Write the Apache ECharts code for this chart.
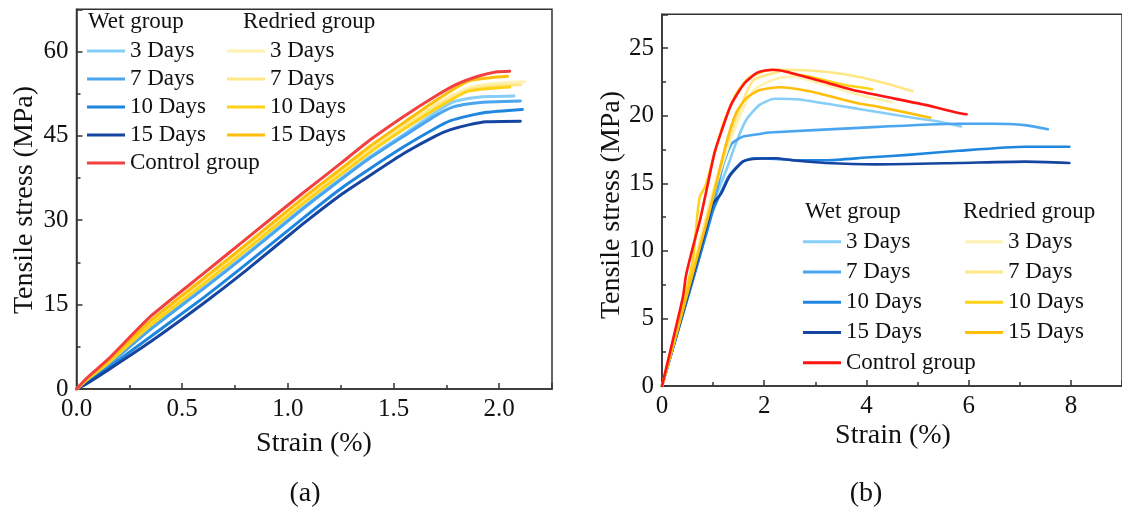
<!DOCTYPE html>
<html>
<head>
<meta charset="utf-8">
<script src="https://cdn.jsdelivr.net/npm/echarts@6/dist/echarts.min.js"></script>
<style>
html,body{margin:0;padding:0;background:#fff;}
#chart{width:1122px;height:510px;}
</style>
</head>
<body>
<div id="chart"></div>
<script>
// ---------- Panel (a) data: [strain %, stress MPa] ----------
const aWet3  = [[0,0],[0.05,1.5],[0.15,4.4],[0.35,10.7],[0.6,18.0],[0.8,23.9],[1.07,32.2],[1.25,37.4],[1.39,41.3],[1.55,45.3],[1.7,49.2],[1.78,51.0],[1.86,51.7],[1.95,52.0],[2.07,52.1]];
const aWet7  = [[0,0],[0.05,1.5],[0.15,4.3],[0.35,10.6],[0.6,17.8],[0.8,23.7],[1.07,32.0],[1.25,37.2],[1.39,41.1],[1.55,45.0],[1.7,48.6],[1.78,50.1],[1.86,50.7],[1.95,51.0],[2.10,51.2]];
const aWet10 = [[0,0],[0.05,1.2],[0.15,3.8],[0.35,9.3],[0.6,16.2],[0.8,22.1],[1.07,30.3],[1.25,35.6],[1.39,39.2],[1.55,43.1],[1.7,46.4],[1.77,47.7],[1.86,48.6],[1.94,49.2],[2.11,49.7]];
const aWet15 = [[0,0],[0.05,1.0],[0.15,3.4],[0.35,8.4],[0.6,15.2],[0.8,21.0],[1.07,29.3],[1.25,34.5],[1.39,38.0],[1.55,41.9],[1.7,45.0],[1.77,46.1],[1.86,47.0],[1.94,47.5],[2.10,47.6]];
const aRed3  = [[0,0],[0.05,1.8],[0.15,4.9],[0.35,11.9],[0.6,19.3],[0.8,25.4],[1.07,33.6],[1.25,38.9],[1.39,42.9],[1.55,47.0],[1.7,50.7],[1.85,53.5],[1.95,54.2],[2.05,54.5],[2.12,54.6]];
const aRed7  = [[0,0],[0.05,1.7],[0.15,4.8],[0.35,11.7],[0.6,19.1],[0.8,25.1],[1.07,33.3],[1.25,38.6],[1.39,42.6],[1.55,46.6],[1.7,50.3],[1.85,53.1],[1.95,53.8],[2.05,54.0],[2.10,54.1]];
const aRed10 = [[0,0],[0.05,1.65],[0.15,4.6],[0.35,11.3],[0.6,18.6],[0.8,24.6],[1.07,32.9],[1.25,38.1],[1.39,42.1],[1.55,46.2],[1.7,49.8],[1.85,52.9],[1.95,53.4],[2.05,53.7]];
const aRed15 = [[0,0],[0.05,1.8],[0.15,5.0],[0.35,12.1],[0.6,19.6],[0.8,25.6],[1.07,33.9],[1.25,39.1],[1.39,43.2],[1.55,47.4],[1.7,51.3],[1.85,54.7],[1.95,55.3],[2.04,55.6]];
const aControl = [[0,0],[0.05,2.0],[0.15,5.3],[0.35,12.9],[0.6,20.5],[0.8,26.6],[1.07,34.8],[1.25,40.1],[1.39,44.3],[1.55,48.5],[1.7,52.1],[1.8,54.2],[1.9,55.6],[1.99,56.4],[2.05,56.5]];

// ---------- Panel (b) data ----------
const bWet3  = [[0,0],[0.3,4.0],[0.6,8.0],[0.9,12.1],[1.0,13.5],[1.26,16.0],[1.45,18.0],[1.65,19.7],[1.91,20.8],[2.2,21.25],[2.68,21.2],[3.85,20.5],[4.82,19.9],[5.5,19.5],[5.85,19.2]];
const bWet7  = [[0,0],[0.3,3.9],[0.6,7.8],[0.9,11.8],[1.0,13.3],[1.1,14.9],[1.2,16.4],[1.36,17.9],[1.58,18.45],[1.91,18.65],[2.1,18.75],[3.85,19.1],[5.8,19.4],[6.45,19.4],[7.1,19.3],[7.55,19.0]];
const bWet10 = [[0,0],[0.3,3.9],[0.6,7.8],[0.9,11.7],[1.0,13.0],[1.15,14.3],[1.32,15.6],[1.58,16.6],[1.8,16.85],[2.23,16.8],[2.7,16.7],[3.2,16.7],[4.0,16.9],[4.82,17.1],[5.8,17.4],[7.1,17.7],[7.97,17.7]];
const bWet15 = [[0,0],[0.3,4.0],[0.6,8.0],[0.9,12.2],[1.0,13.5],[1.16,14.25],[1.32,15.5],[1.58,16.6],[1.78,16.8],[2.23,16.85],[2.55,16.7],[3.2,16.5],[4.18,16.4],[5.8,16.5],[7.1,16.6],[7.97,16.5]];
const bRed3  = [[0,0],[0.3,4.2],[0.6,8.5],[0.9,12.8],[1.2,16.6],[1.5,19.8],[1.8,21.9],[2.2,22.7],[2.55,22.9],[3.0,22.5],[3.53,21.9],[4.0,21.4],[4.5,21.0]];
const bRed7  = [[0,0],[0.3,4.2],[0.6,8.6],[0.9,13.0],[1.2,17.0],[1.5,20.3],[1.78,22.6],[2.23,23.2],[2.43,23.4],[3.2,23.25],[3.8,22.9],[4.37,22.4],[4.9,21.8]];
const bRed10 = [[0,0],[0.3,4.4],[0.6,9.2],[0.69,12.6],[0.74,14.0],[0.85,14.8],[1.0,16.8],[1.2,19.4],[1.45,21.6],[1.7,22.8],[2.0,23.3],[2.3,23.4],[2.55,23.1],[2.88,22.9],[3.2,22.6],[3.53,22.3],[4.11,21.95]];
const bRed15 = [[0,0],[0.3,4.1],[0.6,8.3],[0.9,12.5],[1.0,14.0],[1.26,18.0],[1.45,20.2],[1.65,21.3],[1.91,21.9],[2.3,22.1],[2.88,21.8],[3.85,20.9],[4.18,20.7],[5.25,19.85]];
const bControl = [[0,0],[0.2,3.2],[0.41,6.6],[0.47,8.2],[0.64,10.8],[0.74,12.2],[0.9,15.0],[1.03,17.3],[1.16,18.8],[1.35,20.8],[1.615,22.4],[1.874,23.2],[2.165,23.4],[2.43,23.25],[3.07,22.6],[3.85,21.8],[5.15,20.8],[5.8,20.2],[5.96,20.1]];

// ---------- Labels ----------
const wetLabels = ['3 Days','7 Days','10 Days','15 Days'];
const redLabels = ['3 Days','7 Days','10 Days','15 Days'];
const controlLabel = 'Control group';
const wetHeader = 'Wet group';
const redHeader = 'Redried group';
const xTitle = 'Strain (%)';
const yTitle = 'Tensile stress (MPa)';
const panelLabels = ['(a)','(b)'];

const wetColors = ['#86cef8','#4ba6ef','#1f86e0','#1545a0'];
const redColors = ['#fff1b0','#ffe784','#ffd21a','#ffbe0a'];
const controlColorA = '#f24040';
const controlColorB = '#ff1414';

const FONT = 'Liberation Serif';
const chart = echarts.init(document.getElementById('chart'), null, {renderer:'canvas'});

function mkSeries(panel, idx, name, data, color, width, smooth){
  return {
    type:'line', name: panel+':'+name, xAxisIndex: idx, yAxisIndex: idx,
    data: data, showSymbol:false, symbol:'none', smooth:smooth,
    lineStyle:{color:color, width:width, join:'round', cap:'round'}, itemStyle:{color:color},
    emphasis:{disabled:true}, z: 3
  };
}
const series = [];
const aWet=[aWet3,aWet7,aWet10,aWet15], aRed=[aRed3,aRed7,aRed10,aRed15];
const bWet=[bWet3,bWet7,bWet10,bWet15], bRed=[bRed3,bRed7,bRed10,bRed15];
wetLabels.forEach((l,i)=>series.push(mkSeries('a',0,'W '+l,aWet[i],wetColors[i],3,0.15)));
redLabels.forEach((l,i)=>series.push(mkSeries('a',0,'R '+l,aRed[i],redColors[i],3,0.15)));
series.push(mkSeries('a',0,controlLabel,aControl,controlColorA,3,0.15));
wetLabels.forEach((l,i)=>series.push(mkSeries('b',1,'W '+l,bWet[i],wetColors[i],2.6,0.2)));
redLabels.forEach((l,i)=>series.push(mkSeries('b',1,'R '+l,bRed[i],redColors[i],2.6,0.2)));
series.push(mkSeries('b',1,controlLabel,bControl,controlColorB,2.6,0.2));

const fmtName = n => { const s = n.split(':')[1]; return s.replace(/^[WR] /,''); };
function mkLegend(left, top, names, gap){
  return {
    left:left, top:top, orient:'vertical', data:names, icon:'rect', itemWidth:38, itemHeight:3, itemGap:gap,
    formatter: fmtName, selectedMode:false, padding:0,
    textStyle:{fontFamily:FONT, fontSize:23, color:'#111', lineHeight:24, padding:[0,0,0,0]}
  };
}
const axisLine = {show:true, lineStyle:{color:'#333', width:1.5}};
const tickStyle = {show:true, inside:true, length:6, lineStyle:{color:'#333', width:1.5}};
const minorStyle = {show:true, splitNumber:2, length:4, lineStyle:{color:'#333', width:1.5}};
const labelStyle = {fontFamily:FONT, fontSize:25, color:'#111', margin:8, showMaxLabel:false};

const option = {
  animation:false,
  backgroundColor:'#fff',
  grid:[
    {left:76.5, top:9.3, width:475.5, height:379.7, show:true, borderColor:'#333', borderWidth:1.5, containLabel:false},
    {left:662, top:14.3, width:462.6, height:371.7, show:true, borderColor:'#333', borderWidth:1.5, containLabel:false}
  ],
  xAxis:[
    {type:'value', gridIndex:0, min:0, max:2.25, interval:0.5, axisLine, axisTick:tickStyle, minorTick:minorStyle, splitLine:{show:false},
     axisLabel:Object.assign({}, labelStyle, {formatter:v=>v.toFixed(1)})},
    {type:'value', gridIndex:1, min:0, max:9, interval:2, axisLine, axisTick:tickStyle, minorTick:minorStyle, splitLine:{show:false},
     axisLabel:Object.assign({}, labelStyle)}
  ],
  yAxis:[
    {type:'value', gridIndex:0, min:0, max:67.5, interval:15, axisLine, axisTick:tickStyle, minorTick:minorStyle, splitLine:{show:false},
     axisLabel:Object.assign({}, labelStyle)},
    {type:'value', gridIndex:1, min:0, max:27.5, interval:5, axisLine, axisTick:tickStyle, minorTick:minorStyle, splitLine:{show:false},
     axisLabel:Object.assign({}, labelStyle)}
  ],
  legend:[
    mkLegend(87, 39, wetLabels.map(l=>'a:W '+l).concat(['a:'+controlLabel]), 4),
    mkLegend(227, 39, redLabels.map(l=>'a:R '+l), 4),
    mkLegend(803, 229.7, wetLabels.map(l=>'b:W '+l).concat(['b:'+controlLabel]), 6.25),
    mkLegend(965, 229.7, redLabels.map(l=>'b:R '+l), 6.25)
  ],
  graphic:[
    {type:'text', x:88, y:21.7, style:{text:wetHeader, font:'23px "Liberation Serif"', fill:'#111', align:'left', verticalAlign:'middle'}},
    {type:'text', x:243, y:21.7, style:{text:redHeader, font:'23px "Liberation Serif"', fill:'#111', align:'left', verticalAlign:'middle'}},
    {type:'text', x:805, y:211.7, style:{text:wetHeader, font:'23px "Liberation Serif"', fill:'#111', align:'left', verticalAlign:'middle'}},
    {type:'text', x:963, y:211.7, style:{text:redHeader, font:'23px "Liberation Serif"', fill:'#111', align:'left', verticalAlign:'middle'}},
    {type:'text', x:25, y:200, rotation:Math.PI/2, style:{text:yTitle, font:'28px "Liberation Serif"', fill:'#111', align:'center', verticalAlign:'middle'}},
    {type:'text', x:612, y:205, rotation:Math.PI/2, style:{text:yTitle, font:'28px "Liberation Serif"', fill:'#111', align:'center', verticalAlign:'middle'}},
    {type:'text', x:314, y:444, style:{text:xTitle, font:'28px "Liberation Serif"', fill:'#111', align:'center', verticalAlign:'middle'}},
    {type:'text', x:893, y:436, style:{text:xTitle, font:'28px "Liberation Serif"', fill:'#111', align:'center', verticalAlign:'middle'}},
    {type:'text', x:305, y:494, style:{text:panelLabels[0], font:'28px "Liberation Serif"', fill:'#111', align:'center', verticalAlign:'middle'}},
    {type:'text', x:866, y:494, style:{text:panelLabels[1], font:'28px "Liberation Serif"', fill:'#111', align:'center', verticalAlign:'middle'}}
  ],
  series: series
};
chart.setOption(option);
</script>
</body>
</html>
